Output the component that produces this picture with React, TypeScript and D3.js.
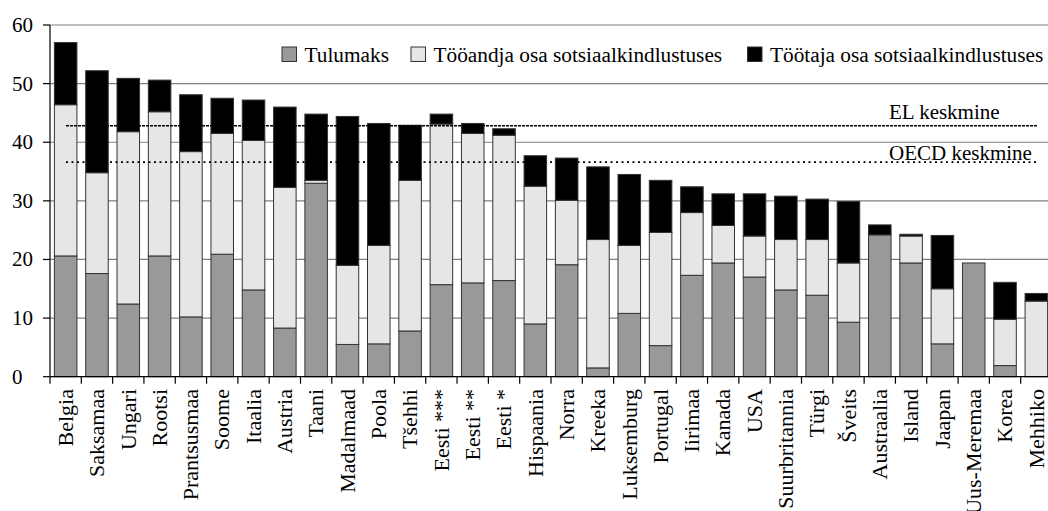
import { useMemo } from 'react';
import * as d3 from 'd3';

const countries = [
  'Belgia', 'Saksamaa', 'Ungari', 'Rootsi', 'Prantsusmaa', 'Soome', 'Itaalia', 'Austria',
  'Taani', 'Madalmaad', 'Poola', 'Tšehhi', 'Eesti ***', 'Eesti **', 'Eesti *', 'Hispaania',
  'Norra', 'Kreeka', 'Luksemburg', 'Portugal', 'Iirimaa', 'Kanada', 'USA', 'Suurbritannia',
  'Türgi', 'Šveits', 'Austraalia', 'Island', 'Jaapan', 'Uus-Meremaa', 'Korea', 'Mehhiko',
];

// tulumaks
const incomeTax = [
  20.6, 17.6, 12.4, 20.6, 10.2, 20.9, 14.8, 8.3, 33.0, 5.5, 5.6, 7.8, 15.7, 16.0, 16.4, 9.0,
  19.1, 1.5, 10.8, 5.3, 17.3, 19.4, 17.0, 14.8, 13.9, 9.3, 24.2, 19.4, 5.6, 19.4, 1.9, 0,
];
// tööandja osa
const employerPart = [
  25.8, 17.2, 29.4, 24.6, 28.2, 20.6, 25.5, 24.0, 0.5, 13.5, 16.8, 25.7, 27.4, 25.5, 24.8, 23.5,
  11.0, 21.9, 11.6, 19.3, 10.7, 6.4, 7.0, 8.6, 9.5, 10.1, 0, 4.6, 9.4, 0, 7.9, 12.9,
];
// töötaja osa
const employeePart = [
  10.6, 17.4, 9.1, 5.4, 9.7, 6.0, 6.9, 13.7, 11.3, 25.4, 20.8, 9.4, 1.7, 1.7, 1.1, 5.2,
  7.2, 12.4, 12.1, 8.9, 4.4, 5.4, 7.2, 7.4, 6.9, 10.5, 1.7, 0.3, 9.1, 0, 6.3, 1.3,
];

const yTicks = [0, 10, 20, 30, 40, 50, 60];
const seriesNames = ['Tulumaks', 'Tööandja osa sotsiaalkindlustuses', 'Töötaja osa sotsiaalkindlustuses'];
const seriesColors = ['#999999', '#e6e6e6', '#000000'];

const euAverage = 42.8;
const oecdAverage = 36.6;

const W = 1048;
const H = 511;
const left = 50;
const right = 1052;
const top = 25;
const bottom = 376.7;
const font = '"Liberation Serif", "Times New Roman", serif';

export default function App() {
  const x = useMemo(
    () => d3.scaleBand<string>().domain(countries).range([left, right]).paddingInner(0.28).paddingOuter(0.14),
    []
  );
  const y = useMemo(() => d3.scaleLinear().domain([0, 60]).range([bottom, top]), []);

  const stacked = useMemo(() => {
    const rows = countries.map((c, i) => ({
      country: c,
      s0: incomeTax[i],
      s1: employerPart[i],
      s2: employeePart[i],
    }));
    return d3.stack<any>().keys(['s0', 's1', 's2'])(rows);
  }, []);

  const step = x.step();
  const legendX = [282, 411, 747.5];

  return (
    <svg width={W} height={H} style={{ position: 'absolute', left: 0, top: 0, background: '#fff' }} fontFamily={font}>
      {/* gridlines */}
      {yTicks.filter((t) => t > 0).map((t) => (
        <line key={t} x1={left} x2={W} y1={y(t)} y2={y(t)} stroke="#808080" strokeWidth={1.2} />
      ))}

      {/* bars */}
      {stacked.map((layer, li) => (
        <g key={li}>
          {layer.map((d, i) => {
            const h = y(d[0]) - y(d[1]);
            if (h <= 0.01) return null;
            return (
              <rect
                key={i}
                x={x(countries[i])}
                y={y(d[1])}
                width={x.bandwidth()}
                height={h}
                fill={seriesColors[li]}
                stroke="#333"
                strokeWidth={1}
              />
            );
          })}
        </g>
      ))}

      {/* averages */}
      <line x1={66} x2={1037} y1={y(euAverage)} y2={y(euAverage)} stroke="#000" strokeWidth={1.5} strokeDasharray="3,1" />
      <line x1={66} x2={1037} y1={y(oecdAverage)} y2={y(oecdAverage)} stroke="#000" strokeWidth={1.8} strokeDasharray="2,3.5" />
      <text x={889} y={y(euAverage) - 7} fontSize={21}>EL keskmine</text>
      <text x={889} y={y(oecdAverage) - 2} fontSize={21}>OECD keskmine</text>

      {/* y axis */}
      <line x1={left} x2={left} y1={top} y2={bottom} stroke="#000" strokeWidth={1.2} />
      {yTicks.map((t) => (
        <g key={t}>
          <line x1={left - 7} x2={left} y1={y(t)} y2={y(t)} stroke="#000" strokeWidth={1.2} />
          <text x={12} y={y(t)} dy="0.33em" fontSize={21}>{t}</text>
        </g>
      ))}

      {/* x axis */}
      <line x1={left} x2={W} y1={bottom} y2={bottom} stroke="#000" strokeWidth={1.2} />
      {countries.map((c, i) => (
        <line key={c} x1={left + i * step} x2={left + i * step} y1={bottom} y2={bottom + 7} stroke="#000" strokeWidth={1.2} />
      ))}
      {countries.map((c) => {
        const cx = (x(c) ?? 0) + x.bandwidth() / 2;
        return (
          <text
            key={c}
            transform={`translate(${cx},389) rotate(-90)`}
            textAnchor="end"
            dy="0.33em"
            fontSize={22}
          >
            {c}
          </text>
        );
      })}

      {/* legend */}
      {seriesNames.map((n, i) => (
        <g key={n}>
          <rect x={legendX[i]} y={47} width={14.5} height={14.5} fill={seriesColors[i]} stroke="#333" strokeWidth={1} />
          <text x={legendX[i] + 22.5} y={61.5} fontSize={21.3}>{n}</text>
        </g>
      ))}
    </svg>
  );
}
